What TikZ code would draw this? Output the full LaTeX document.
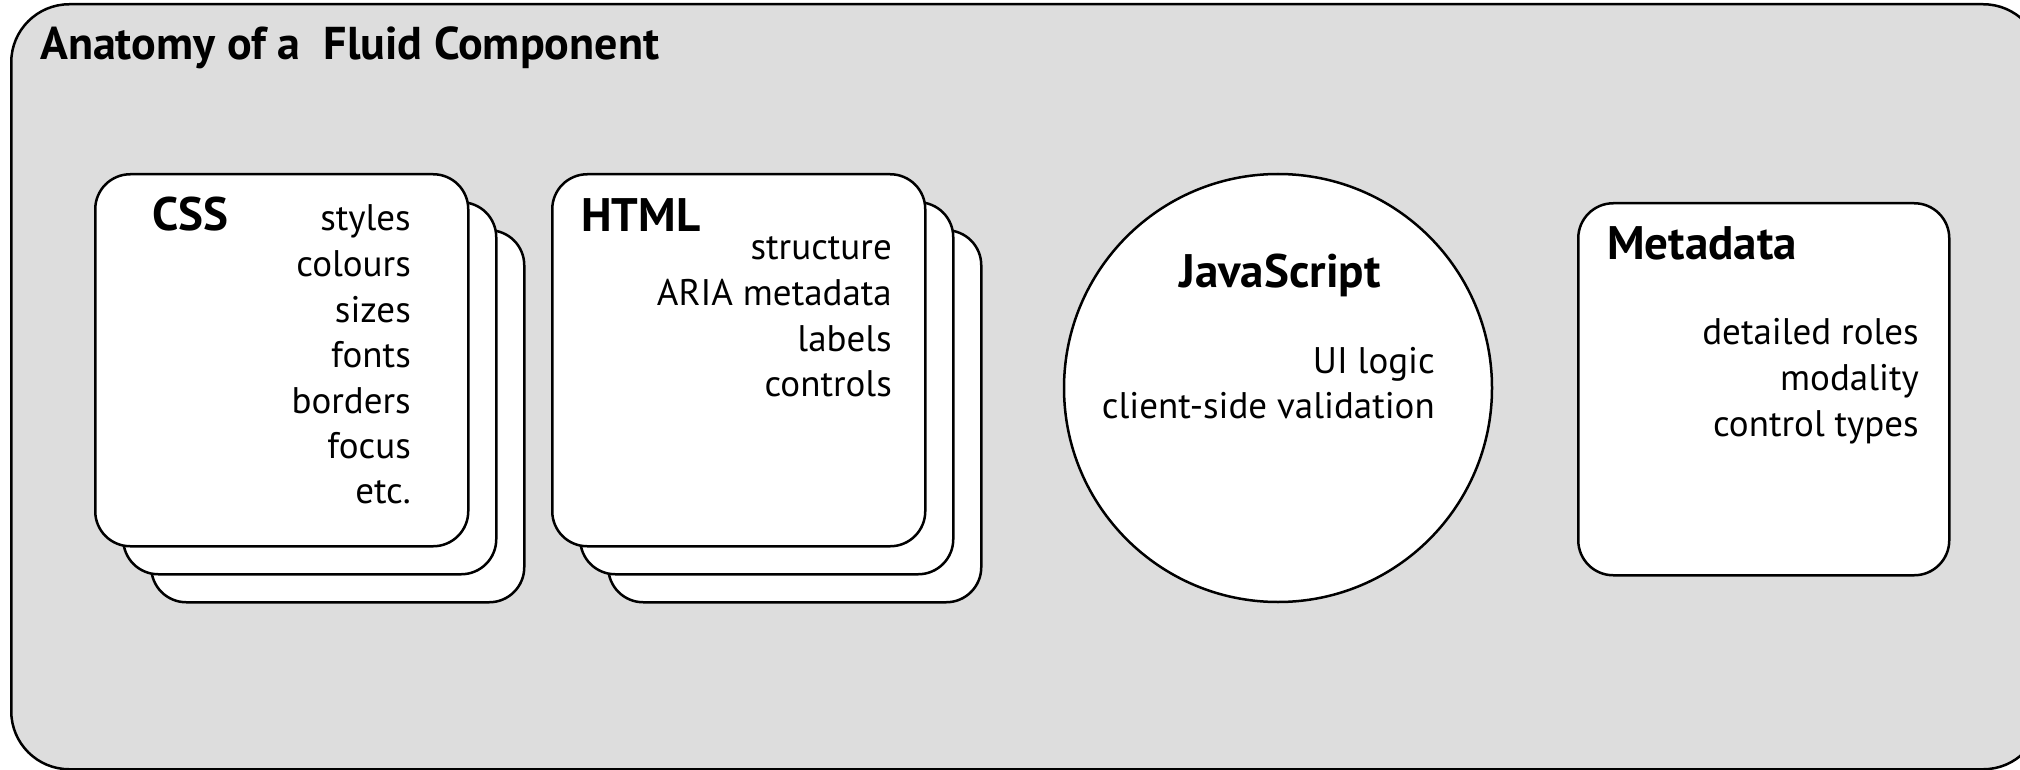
\documentclass[tikz,border=0pt]{standalone}
\usepackage{fontspec}
\setmainfont{PT Sans}
\begin{document}
\begin{tikzpicture}[x=1pt,y=-1pt,
  frame/.style={draw=black, line width=2.5pt, fill=bggray, rounded corners=58pt, inner sep=0pt, anchor=north west},
  card/.style={draw=black, line width=2.5pt, fill=white, rounded corners=35pt,
    minimum width=373pt, minimum height=372pt, inner sep=0pt, anchor=north west},
  heading/.style={font=\bfseries\fontsize{47}{52}\selectfont, inner sep=0pt, anchor=base west},
  item/.style={font=\fontsize{37}{45}\selectfont, inner sep=0pt, anchor=base east},
]
\definecolor{bggray}{RGB}{221,221,221}
\clip (0,0) rectangle (2020,770);
\node[frame, minimum width=2030pt, minimum height=765pt] (frame) at (10,3) {};
\node[heading, font=\bfseries\fontsize{46}{52}\selectfont] (title) at (40,60) {Anatomy of a\ \ Fluid Component};

% CSS stack
\node[card] (css-back2) at (150,229) {};
\node[card] (css-back1) at (122,201) {};
\node[card] (css) at (94,173) {};
\node[heading] (css-title) at (152,230) {CSS};
\foreach \t/\y [count=\i] in {styles/230, colours/276, sizes/322, fonts/367, borders/413, focus/458, etc./503}
  \node[item] (css-\i) at (411,\y) {\t};

% HTML stack
\node[card] (html-back2) at (607,229) {};
\node[card] (html-back1) at (579,201) {};
\node[card] (html) at (551,173) {};
\node[heading] (html-title) at (581,231) {HTML};
\foreach \t/\y [count=\i] in {structure/259, ARIA metadata/305, labels/351, controls/396}
  \node[item] (html-\i) at (892,\y) {\t};

% JavaScript
\node[circle, draw=black, line width=2.5pt, fill=white, minimum size=428pt, inner sep=0pt] (js) at (1278,388) {};
\node[heading, anchor=base] (js-title) at (1280,287) {JavaScript};
\node[item] (js-1) at (1435,373) {UI logic};
\node[item] (js-2) at (1435,418) {client-side validation};

% Metadata
\node[card, minimum width=371pt] (meta) at (1577,202) {};
\node[heading] (meta-title) at (1607,259) {Metadata};
\foreach \t/\y [count=\i] in {detailed roles/344, modality/390, control types/436}
  \node[item] (meta-\i) at (1919,\y) {\t};
\end{tikzpicture}
\end{document}
